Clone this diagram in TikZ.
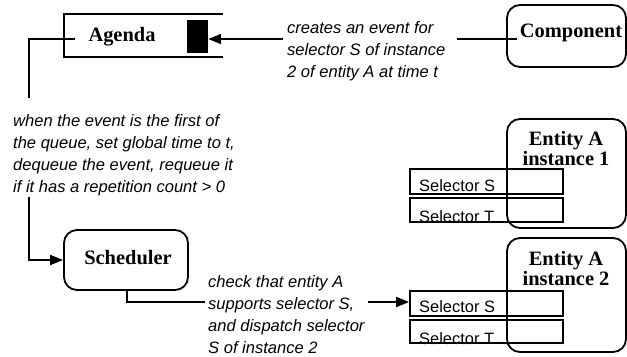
\documentclass[tikz,border=0pt]{standalone}
\usepackage{fontspec}
\setmainfont{Liberation Serif}
\newfontfamily\arialfont{Liberation Sans}
\usetikzlibrary{arrows.meta}
\tikzset{
  ln/.style={line width=1.8bp},
  tip/.style={-{Triangle[length=13bp,width=10bp]}},
  rbox/.style={draw,line width=1.8bp,rounded corners=13bp,inner sep=0pt},
  sbox/.style={draw,line width=1.8bp,inner sep=0pt},
  blabel/.style={font=\fontsize{20.5}{18}\selectfont\bfseries,inner sep=0pt,align=center},
  slabel/.style={font=\arialfont\fontsize{16.5}{20}\selectfont,inner sep=0pt,anchor=base west},
  note/.style={font=\arialfont\itshape\fontsize{16.6}{22}\selectfont,inner sep=0pt,align=left,anchor=base west}
}
\begin{document}
\begin{tikzpicture}[x=1bp,y=-1bp]
\useasboundingbox (0,0) rectangle (627,356);
% Agenda
\draw[ln] (223,14) -- (64,14) -- (64,57) -- (223,57);
\node[blabel,anchor=base] (agenda) at (122,41) {Agenda};
\node[fill=black,inner sep=0pt,minimum width=21bp,minimum height=33bp] (queue) at (197.5,36.5) {};
% Component
\node[rbox,minimum width=119bp,minimum height=62bp] (comp) at (566.5,36) {};
\node[blabel,anchor=base] (complabel) at (571,37.5) {Component};
% Scheduler
\node[rbox,minimum width=124bp,minimum height=60bp] (sched) at (126,260) {};
\node[blabel,anchor=base] (schedlabel) at (128,264.5) {Scheduler};
% Entities
\node[rbox,minimum width=119bp,minimum height=109bp] (ent1) at (566.5,173.5) {};
\node[blabel,anchor=base] (ent1label) at (566,165) {Entity A\\instance 1};
\node[rbox,minimum width=119bp,minimum height=114bp] (ent2) at (566.5,295) {};
\node[blabel,anchor=base] (ent2label) at (566,285.5) {Entity A\\instance 2};
% Selector boxes
\node[sbox,minimum width=153bp,minimum height=25bp] (s1) at (486.5,181.5) {};
\node[sbox,minimum width=153bp,minimum height=24bp] (t1) at (486.5,210) {};
\node[sbox,minimum width=153bp,minimum height=25bp] (s2) at (486.5,303.5) {};
\node[sbox,minimum width=153bp,minimum height=23bp] (t2) at (486.5,331.5) {};
\node[slabel] (s1l) at (419,191) {Selector S};
\node[slabel] (t1l) at (419,222) {Selector T};
\node[slabel] (s2l) at (419,312) {Selector S};
\node[slabel] (t2l) at (419,344) {Selector T};
% Notes
\node[note] (n1) at (287,77) {creates an event for\\selector S of instance\\2 of entity A at time t};
\node[note] (n2) at (13,192) {when the event is the first of\\the queue, set global time to t,\\dequeue the event, requeue it\\if it has a repetition count > 0};
\node[note] (n3) at (208,353) {check that entity A\\supports selector S,\\and dispatch selector\\S of instance 2};
% Connectors
\coordinate (c1) at (517,39);
\coordinate (c2) at (457,39);
\coordinate (c3) at (283,39);
\draw[ln] (c1) -- (c2);
\draw[ln,tip] (c3) -- (queue.east |- c3);
\coordinate (a1) at (75,39);
\coordinate (a2) at (29,39);
\coordinate (a3) at (29,98);
\coordinate (a4) at (29,197);
\draw[ln] (a1) -- (a2) -- (a3);
\draw[ln,tip] (a4) -- (a4 |- sched.west) -- (sched.west);
\coordinate (b1) at (205,302);
\draw[ln] (sched.south -| 127,0) -- (127,302) -- (b1);
\coordinate (b2) at (368,302);
\draw[ln,tip] (b2) -- (s2.west |- b2);
\end{tikzpicture}
\end{document}
